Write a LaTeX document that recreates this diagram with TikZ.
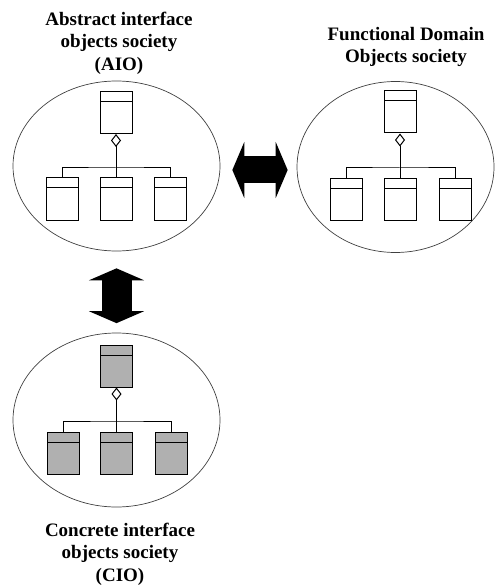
\documentclass[tikz,border=0pt]{standalone}
\usepackage{fontspec}
\setmainfont{Liberation Serif}
\usepackage{tikz}
\usetikzlibrary{arrows.meta, shapes.geometric, calc}

\definecolor{cioGray}{RGB}{176,176,176}

\begin{document}
\begin{tikzpicture}[x=1pt, y=-1pt, every text node part/.style={align=center}]

\tikzstyle{society}=[draw=black!75, line width=0.7pt, ellipse, inner sep=0pt]
\tikzstyle{cls}=[draw, line width=1pt, minimum width=32pt, minimum height=42pt, inner sep=0pt,
  path picture={\draw [line width=1pt] ([yshift=-10pt]path picture bounding box.north west)
  -- ([yshift=-10pt]path picture bounding box.north east);}]
\tikzstyle{ccls}=[cls, fill=cioGray]
\tikzstyle{lnk}=[draw, line width=1pt]
\tikzstyle{agg}=[draw, line width=1pt, -{Diamond[open, width=10pt, length=13pt]}]
\tikzstyle{lbl}=[font=\bfseries\fontsize{19}{22.5}\selectfont, inner sep=0pt]
\tikzstyle{hbig}=[draw, line width=27pt, {Triangle[width=56pt, length=12pt]}-{Triangle[width=56pt, length=12pt]}]
\tikzstyle{vbig}=[draw, line width=30pt, {Triangle[width=55pt, length=12pt]}-{Triangle[width=55pt, length=12pt]}]

\useasboundingbox (0, 0) rectangle (495, 585);

\node (aio) [society, minimum width=207pt, minimum height=170pt] at (116.5, 166) {};
\node (fdo) [society, minimum width=197pt, minimum height=171pt] at (395.5, 167) {};
\node (cio) [society, minimum width=207pt, minimum height=174pt] at (116.5, 420) {};

\node (aiolbl) [lbl] at (119, 43) {Abstract interface\\objects society\\(AIO)};
\node (fdolbl) [lbl] at (406, 47) {Functional Domain\\Objects society};
\node (ciolbl) [lbl] at (120, 554) {Concrete interface\\objects society\\(CIO)};

\node (a0) [cls] at (116, 112.5) {};
\node (a1) [cls] at (62, 199) {};
\node (a2) [cls] at (116, 199) {};
\node (a3) [cls] at (170, 199) {};
\coordinate (aj) at (116, 168);

\node (f0) [cls] at (400, 112) {};
\node (f1) [cls] at (346, 199.5) {};
\node (f2) [cls] at (400, 199.5) {};
\node (f3) [cls] at (455, 199.5) {};
\coordinate (fj) at (400, 168);

\node (c0) [ccls] at (116.5, 366) {};
\node (c1) [ccls] at (63, 453) {};
\node (c2) [ccls] at (116.5, 453) {};
\node (c3) [ccls] at (171.5, 453) {};
\coordinate (cj) at (116.5, 421);

\path [agg] (aj) -- (a0);
\path [lnk] (a1) |- (aj) -| (a3);
\path [lnk] (aj) -- (a2);

\path [agg] (fj) -- (f0);
\path [lnk] (f1) |- (fj) -| (f3);
\path [lnk] (fj) -- (f2);

\path [agg] (cj) -- (c0);
\path [lnk] (c1) |- (cj) -| (c3);
\path [lnk] (cj) -- (c2);

\path [hbig] ([yshift=-4pt]aio.east) -- ([yshift=-3pt]fdo.west)
  [shorten <=12pt, shorten >=9pt];
\path [vbig, shorten <=17pt, shorten >=9.5pt] (aio.south) -- (cio.north);

\end{tikzpicture}
\end{document}
